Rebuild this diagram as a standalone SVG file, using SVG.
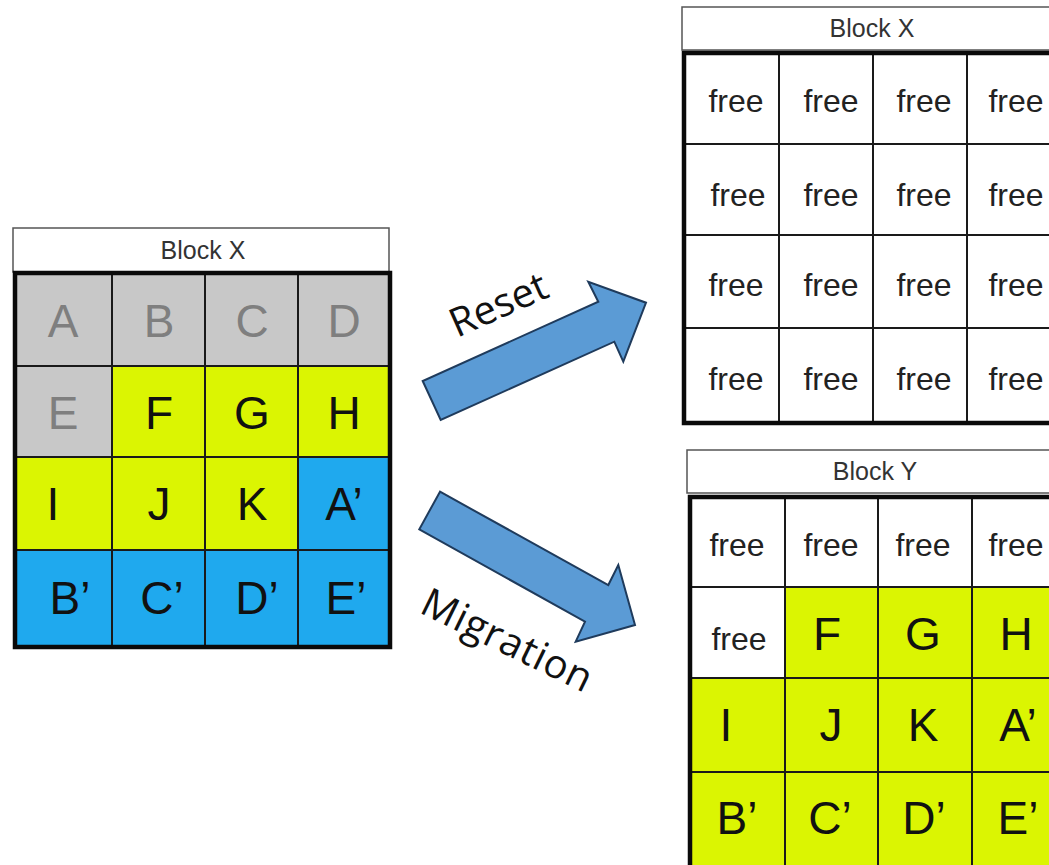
<svg xmlns="http://www.w3.org/2000/svg" width="1049" height="865" viewBox="0 0 1049 865">
  <style>
    .hdr { fill: #ffffff; stroke: #555555; stroke-width: 1.5; }
    .hdr-t { font-family: "Liberation Sans", Arial, sans-serif; font-size: 25px; fill: #333333; text-anchor: middle; }
    .cell { stroke: #1a1a1a; stroke-width: 2; }
    .frame { fill: none; stroke: #0a0a0a; stroke-width: 4.5; }
    .gray { fill: #c8c8c8; }
    .lime { fill: #dbf502; }
    .blue { fill: #1fa9ee; }
    .white { fill: #ffffff; }
    .big { font-family: "Liberation Sans", Arial, sans-serif; font-size: 46px; fill: #111111; text-anchor: middle; }
    .big.dim { fill: #7f7f7f; }
    .free { font-family: "Liberation Sans", Arial, sans-serif; font-size: 32px; fill: #222222; text-anchor: middle; }
    .arrow { fill: #5b9bd5; stroke: #1f3b5c; stroke-width: 2; stroke-linejoin: miter; }
    .lbl { font-family: "Open Sans", "Noto Sans", sans-serif; font-size: 40px; fill: #111111; }
  </style>

  <!-- Source block: Block X before reclaim -->
  <g id="block-x-before">
    <rect class="hdr" x="13" y="228" width="376" height="44"/>
    <text class="hdr-t" x="203" y="259">Block X</text>
    <!-- row 1 -->
    <rect class="cell gray" x="15" y="273" width="97" height="93"/>
    <rect class="cell gray" x="112" y="273" width="93" height="93"/>
    <rect class="cell gray" x="205" y="273" width="93" height="93"/>
    <rect class="cell gray" x="298" y="273" width="92" height="93"/>
    <!-- row 2 -->
    <rect class="cell gray" x="15" y="366" width="97" height="91"/>
    <rect class="cell lime" x="112" y="366" width="93" height="91"/>
    <rect class="cell lime" x="205" y="366" width="93" height="91"/>
    <rect class="cell lime" x="298" y="366" width="92" height="91"/>
    <!-- row 3 -->
    <rect class="cell lime" x="15" y="457" width="97" height="93"/>
    <rect class="cell lime" x="112" y="457" width="93" height="93"/>
    <rect class="cell lime" x="205" y="457" width="93" height="93"/>
    <rect class="cell blue" x="298" y="457" width="92" height="93"/>
    <!-- row 4 -->
    <rect class="cell blue" x="15" y="550" width="97" height="97"/>
    <rect class="cell blue" x="112" y="550" width="93" height="97"/>
    <rect class="cell blue" x="205" y="550" width="93" height="97"/>
    <rect class="cell blue" x="298" y="550" width="92" height="97"/>
    <rect class="frame" x="15" y="273" width="375" height="374"/>

    <text class="big dim" x="63" y="337">A</text>
    <text class="big dim" x="159" y="337">B</text>
    <text class="big dim" x="252" y="337">C</text>
    <text class="big dim" x="344" y="337">D</text>
    <text class="big dim" x="63" y="429">E</text>
    <text class="big" x="159" y="429">F</text>
    <text class="big" x="252" y="429">G</text>
    <text class="big" x="344" y="429">H</text>
    <text class="big" x="53" y="520">I</text>
    <text class="big" x="159" y="520">J</text>
    <text class="big" x="252" y="520">K</text>
    <text class="big" x="344" y="520">A’</text>
    <text class="big" x="70" y="614">B’</text>
    <text class="big" x="162" y="614">C’</text>
    <text class="big" x="257" y="614">D’</text>
    <text class="big" x="346" y="614">E’</text>
  </g>

  <!-- Block X after reset: all pages free -->
  <g id="block-x-reset">
    <rect class="hdr" x="682" y="7" width="380" height="43"/>
    <text class="hdr-t" x="872" y="37">Block X</text>
    <g class="white">
      <rect class="cell" x="684" y="53" width="95" height="91"/>
      <rect class="cell" x="779" y="53" width="94" height="91"/>
      <rect class="cell" x="873" y="53" width="94" height="91"/>
      <rect class="cell" x="967" y="53" width="94" height="91"/>
      <rect class="cell" x="684" y="144" width="95" height="91"/>
      <rect class="cell" x="779" y="144" width="94" height="91"/>
      <rect class="cell" x="873" y="144" width="94" height="91"/>
      <rect class="cell" x="967" y="144" width="94" height="91"/>
      <rect class="cell" x="684" y="235" width="95" height="93"/>
      <rect class="cell" x="779" y="235" width="94" height="93"/>
      <rect class="cell" x="873" y="235" width="94" height="93"/>
      <rect class="cell" x="967" y="235" width="94" height="93"/>
      <rect class="cell" x="684" y="328" width="95" height="95"/>
      <rect class="cell" x="779" y="328" width="94" height="95"/>
      <rect class="cell" x="873" y="328" width="94" height="95"/>
      <rect class="cell" x="967" y="328" width="94" height="95"/>
    </g>
    <rect class="frame" x="684" y="53" width="377" height="370"/>

    <text class="free" x="736" y="112">free</text>
    <text class="free" x="831" y="112">free</text>
    <text class="free" x="924" y="112">free</text>
    <text class="free" x="1016" y="112">free</text>
    <text class="free" x="738" y="206">free</text>
    <text class="free" x="831" y="206">free</text>
    <text class="free" x="924" y="206">free</text>
    <text class="free" x="1016" y="206">free</text>
    <text class="free" x="736" y="296">free</text>
    <text class="free" x="831" y="296">free</text>
    <text class="free" x="924" y="296">free</text>
    <text class="free" x="1016" y="296">free</text>
    <text class="free" x="736" y="390">free</text>
    <text class="free" x="831" y="390">free</text>
    <text class="free" x="924" y="390">free</text>
    <text class="free" x="1016" y="390">free</text>
  </g>

  <!-- Block Y after migration of valid pages -->
  <g id="block-y">
    <rect class="hdr" x="687" y="450" width="380" height="43"/>
    <text class="hdr-t" x="875" y="480">Block Y</text>
    <rect class="cell white" x="690" y="497" width="95" height="90"/>
    <rect class="cell white" x="785" y="497" width="93" height="90"/>
    <rect class="cell white" x="878" y="497" width="94" height="90"/>
    <rect class="cell white" x="972" y="497" width="94" height="90"/>
    <rect class="cell white" x="690" y="587" width="95" height="91"/>
    <rect class="cell lime" x="785" y="587" width="93" height="91"/>
    <rect class="cell lime" x="878" y="587" width="94" height="91"/>
    <rect class="cell lime" x="972" y="587" width="94" height="91"/>
    <rect class="cell lime" x="690" y="678" width="95" height="94"/>
    <rect class="cell lime" x="785" y="678" width="93" height="94"/>
    <rect class="cell lime" x="878" y="678" width="94" height="94"/>
    <rect class="cell lime" x="972" y="678" width="94" height="94"/>
    <rect class="cell lime" x="690" y="772" width="95" height="100"/>
    <rect class="cell lime" x="785" y="772" width="93" height="100"/>
    <rect class="cell lime" x="878" y="772" width="94" height="100"/>
    <rect class="cell lime" x="972" y="772" width="94" height="100"/>
    <rect class="frame" x="690" y="497" width="376" height="375"/>

    <text class="free" x="737" y="556">free</text>
    <text class="free" x="831" y="556">free</text>
    <text class="free" x="923" y="556">free</text>
    <text class="free" x="1016" y="556">free</text>
    <text class="free" x="739" y="650">free</text>
    <text class="big" x="827" y="650">F</text>
    <text class="big" x="923" y="650">G</text>
    <text class="big" x="1016" y="650">H</text>
    <text class="big" x="726" y="741">I</text>
    <text class="big" x="831" y="741">J</text>
    <text class="big" x="923" y="741">K</text>
    <text class="big" x="1018" y="741">A’</text>
    <text class="big" x="737" y="834">B’</text>
    <text class="big" x="830" y="834">C’</text>
    <text class="big" x="924" y="834">D’</text>
    <text class="big" x="1018" y="834">E’</text>
  </g>

  <!-- Block arrows with their labels -->
  <g id="connectors">
    <polygon class="arrow" points="422.7,381 440.7,420 614.3,341.7 623.3,361.7 646,302.7 588.3,281.7 598.3,301.7"/>
    <polygon class="arrow" points="440,491.7 419.3,529.3 585,621.7 575.7,641.7 635,625 618.3,565 608.3,585"/>
    <text class="lbl" transform="translate(457,338) rotate(-24)" textLength="103" lengthAdjust="spacing">Reset</text>
    <text class="lbl" transform="translate(418,612) rotate(26)" textLength="185" lengthAdjust="spacing">Migration</text>
  </g>
</svg>
